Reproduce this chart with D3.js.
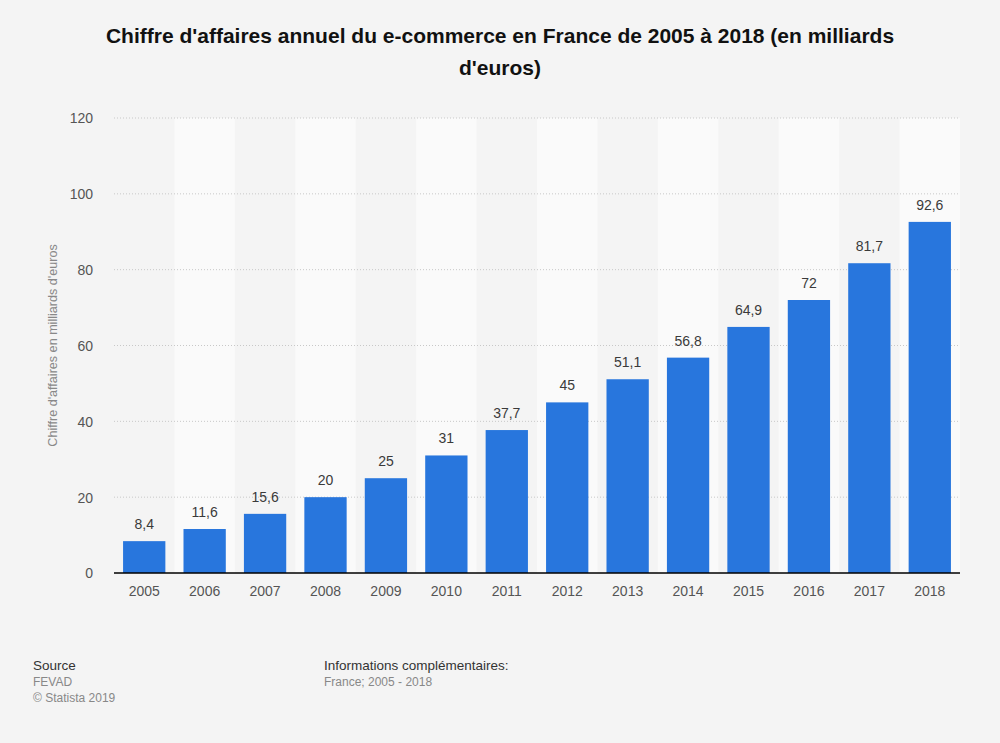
<!DOCTYPE html>
<html>
<head>
<meta charset="utf-8">
<script src="https://cdn.jsdelivr.net/npm/d3@7"></script>
<style>
  body { margin: 0; background: #f4f4f4; }
  text { font-family: "Liberation Sans", Arial, sans-serif; }
</style>
</head>
<body>
<div id="chart"></div>
<script>
var years = ['2005', '2006', '2007', '2008', '2009', '2010', '2011', '2012', '2013', '2014', '2015', '2016', '2017', '2018']
var values = [8.4, 11.6, 15.6, 20, 25, 31, 37.7, 45, 51.1, 56.8, 64.9, 72, 81.7, 92.6]
var yTicks = [0, 20, 40, 60, 80, 100, 120]

var width = 1000, height = 743
var margin = {left: 114, right: 40, top: 118, bottom: 170}

var svg = d3.select('#chart').append('svg').attr('width', width).attr('height', height)
svg.append('rect').attr('width', width).attr('height', height).attr('fill', '#f4f4f4')

var x = d3.scaleBand().domain(years).range([margin.left, width - margin.right]).paddingInner(0.3).paddingOuter(0.15)
var y = d3.scaleLinear().domain([0, 120]).range([height - margin.bottom, margin.top])

// alternating stripes
var step = x.step()
svg.selectAll('.stripe').data(years.filter(function(d, i){ return i % 2 == 1 })).enter()
  .append('rect')
  .attr('x', function(d){ return x(d) - step * 0.3 / 2 })
  .attr('y', y(120))
  .attr('width', step)
  .attr('height', y(0) - y(120))
  .attr('fill', '#fafafa')

// grid
svg.selectAll('.grid').data(yTicks.slice(1)).enter()
  .append('line')
  .attr('x1', margin.left).attr('x2', width - margin.right)
  .attr('y1', function(d){ return y(d) }).attr('y2', function(d){ return y(d) })
  .attr('stroke', '#c8c8c8').attr('stroke-width', 1).attr('stroke-dasharray', '1,2')

// y axis
var yAxis = svg.append('g').attr('transform', 'translate(' + margin.left + ',0)')
  .call(d3.axisLeft(y).tickValues(yTicks).tickSize(0).tickPadding(21))
yAxis.select('.domain').remove()
yAxis.selectAll('text').attr('font-size', 14).attr('fill', '#555').attr('dy', '0.35em')

// bars
svg.selectAll('.bar').data(values).enter()
  .append('rect')
  .attr('x', function(d, i){ return x(years[i]) })
  .attr('y', function(d){ return y(d) })
  .attr('width', x.bandwidth())
  .attr('height', function(d){ return y(0) - y(d) })
  .attr('fill', '#2876dd')

// labels
svg.selectAll('.lbl').data(values).enter()
  .append('text')
  .attr('x', function(d, i){ return x(years[i]) + x.bandwidth() / 2 })
  .attr('y', function(d){ return y(d) - 12 })
  .attr('text-anchor', 'middle')
  .attr('font-size', 14)
  .attr('fill', '#3a3a3a')
  .text(function(d){ return String(d).replace('.', ',') })

// x axis
var xAxis = svg.append('g').attr('transform', 'translate(0,' + y(0) + ')')
  .call(d3.axisBottom(x).tickSize(0).tickPadding(13))
xAxis.select('.domain').attr('stroke', '#000').attr('stroke-width', 1.5)
  .attr('d', 'M' + margin.left + ',0H' + (width - margin.right))
xAxis.selectAll('text').attr('font-size', 14).attr('fill', '#555').attr('dy', '0.71em')

// axis title
svg.append('text')
  .attr('transform', 'translate(57,' + ((y(0) + y(120)) / 2) + ') rotate(-90)')
  .attr('text-anchor', 'middle')
  .attr('font-size', 12.6)
  .attr('fill', '#888')
  .text("Chiffre d'affaires en milliards d'euros")

// title
var title = svg.append('text').attr('text-anchor', 'middle').attr('font-size', 21)
  .attr('font-weight', 'bold').attr('fill', '#111')
title.append('tspan').attr('x', 500).attr('y', 43).text("Chiffre d'affaires annuel du e-commerce en France de 2005 à 2018 (en milliards")
title.append('tspan').attr('x', 500).attr('y', 75).text("d'euros)")

// footer
svg.append('text').attr('x', 33).attr('y', 670).attr('font-size', 13.5).attr('fill', '#333').text('Source')
svg.append('text').attr('x', 33).attr('y', 686).attr('font-size', 12).attr('fill', '#888').text('FEVAD')
svg.append('text').attr('x', 33).attr('y', 702).attr('font-size', 12).attr('fill', '#888').text('© Statista 2019')
svg.append('text').attr('x', 324).attr('y', 670).attr('font-size', 13.5).attr('fill', '#333').text('Informations complémentaires:')
svg.append('text').attr('x', 324).attr('y', 686).attr('font-size', 12).attr('fill', '#888').text('France; 2005 - 2018')
</script>
</body>
</html>
